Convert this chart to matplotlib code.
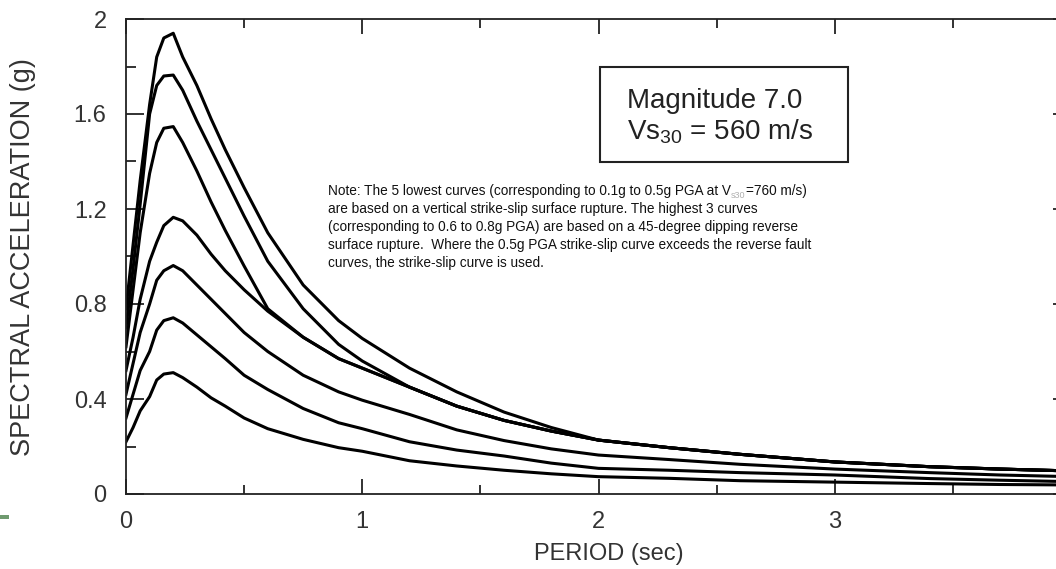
import matplotlib
matplotlib.use("Agg")
import matplotlib.pyplot as plt
from matplotlib.patches import Rectangle
from matplotlib.ticker import MultipleLocator, FuncFormatter

plt.rcParams["font.family"] = ["Liberation Sans", "DejaVu Sans"]
plt.rcParams["mathtext.default"] = "regular"

# Response spectra, spectral acceleration (g) versus period (sec)
period = [0, 0.03, 0.06, 0.1, 0.13, 0.16, 0.2, 0.24, 0.3, 0.36, 0.42, 0.5, 0.6,
          0.75, 0.9, 1.0, 1.2, 1.4, 1.6, 1.8, 2.0, 2.3, 2.6, 3.0, 3.4, 3.7, 4.0]

# reverse-fault curves (0.8g, 0.7g, 0.6g PGA), enveloped by the 0.5g strike-slip curve
sa_rev_08 = [0.78, 1.05, 1.32, 1.64, 1.84, 1.92, 1.94, 1.84, 1.72, 1.58, 1.45, 1.29, 1.10,
             0.88, 0.73, 0.655, 0.53, 0.43, 0.345, 0.28, 0.227, 0.195, 0.167, 0.135, 0.115, 0.105, 0.097]
sa_rev_07 = [0.70, 0.95, 1.22, 1.60, 1.72, 1.76, 1.764, 1.70, 1.57, 1.45, 1.33, 1.17, 0.98,
             0.78, 0.63, 0.56, 0.45, 0.37, 0.31, 0.265, 0.227, 0.195, 0.167, 0.135, 0.115, 0.105, 0.097]
sa_rev_06 = [0.62, 0.86, 1.10, 1.35, 1.48, 1.54, 1.547, 1.48, 1.36, 1.23, 1.11, 0.96, 0.78,
             0.66, 0.57, 0.53, 0.45, 0.37, 0.31, 0.265, 0.227, 0.195, 0.167, 0.135, 0.115, 0.105, 0.097]
# strike-slip curves
sa_ss_05 = [0.52, 0.66, 0.82, 0.98, 1.06, 1.13, 1.165, 1.15, 1.09, 1.01, 0.94, 0.86, 0.77,
            0.66, 0.57, 0.53, 0.45, 0.37, 0.31, 0.265, 0.227, 0.195, 0.167, 0.135, 0.115, 0.105, 0.097]
sa_ss_04 = [0.42, 0.55, 0.68, 0.80, 0.90, 0.94, 0.962, 0.94, 0.88, 0.82, 0.76, 0.68, 0.60,
            0.50, 0.43, 0.395, 0.335, 0.27, 0.225, 0.19, 0.164, 0.145, 0.125, 0.105, 0.09, 0.08, 0.073]
sa_ss_03 = [0.32, 0.42, 0.52, 0.60, 0.69, 0.73, 0.742, 0.72, 0.67, 0.62, 0.57, 0.50, 0.44,
            0.36, 0.30, 0.275, 0.22, 0.185, 0.16, 0.13, 0.108, 0.10, 0.09, 0.08, 0.065, 0.058, 0.052]
sa_ss_02 = [0.22, 0.28, 0.35, 0.41, 0.48, 0.505, 0.511, 0.49, 0.45, 0.405, 0.37, 0.32, 0.275,
            0.23, 0.195, 0.18, 0.14, 0.118, 0.10, 0.085, 0.073, 0.066, 0.056, 0.05, 0.044, 0.04, 0.038]

curves = [sa_rev_08, sa_rev_07, sa_rev_06, sa_ss_05, sa_ss_04, sa_ss_03, sa_ss_02]

x_ticks = [0, 1, 2, 3, 4]
x_tick_labels = ["0", "1", "2", "3", ""]
y_ticks = [0, 0.4, 0.8, 1.2, 1.6, 2.0]
y_tick_labels = ["0", "0.4", "0.8", "1.2", "1.6", "2"]

W, H = 1056, 569
fig = plt.figure(figsize=(W / 100, H / 100), dpi=100)
fig.patch.set_facecolor("white")

# axes in pixel terms: left 126, right 1071, top 19, bottom 494
ax = fig.add_axes([126 / W, (H - 494) / H, 945 / W, 475 / H])
for sa in curves:
    ax.plot(period, sa, color="black", lw=2.2, solid_joinstyle="round")

ax.set_xlim(0, 4)
ax.set_ylim(0, 2)
ax.set_xticks(x_ticks, x_tick_labels)
ax.set_yticks(y_ticks, y_tick_labels)
ax.xaxis.set_minor_locator(MultipleLocator(0.5))
ax.yaxis.set_minor_locator(MultipleLocator(0.2))

for s in ax.spines.values():
    s.set_linewidth(1.3)
    s.set_color("#222222")

ax.tick_params(which="both", direction="in", top=True, right=True, width=1.3,
               color="#222222", labelcolor="#333333", labelsize=17)
ax.tick_params(axis="x", which="major", length=10.8, pad=12)
ax.tick_params(axis="x", which="minor", length=6.5)
ax.tick_params(axis="y", which="major", length=13, pad=14)
ax.tick_params(axis="y", which="minor", length=7.2)


def fx(px):
    return px / W


def fy(py):
    return 1 - py / H


fig.text(fx(23), fy(257), "SPECTRAL ACCELERATION (g)", rotation=90, ha="center",
         va="center", fontsize=19.5, color="#333333")
fig.text(fx(609), fy(560), "PERIOD (sec)", ha="center", va="baseline",
         fontsize=17, color="#333333")

# magnitude / site box
fig.add_artist(Rectangle((fx(600), fy(162)), 248 / W, 95 / H, transform=fig.transFigure,
                         fill=False, edgecolor="#222222", lw=1.5))
fig.text(fx(627), fy(108), "Magnitude 7.0", ha="left", va="baseline", fontsize=20,
         color="#222222")
fig.text(fx(627), fy(140), "Vs$_{30}$ = 560 m/s", ha="left", va="baseline", fontsize=20,
         color="#222222")

# explanatory note
note_font = dict(family=["Liberation Sans", "DejaVu Sans"], fontsize=9.8, color="#111111")
t1 = fig.text(fx(328), fy(195), "Note: The 5 lowest curves (corresponding to 0.1g to 0.5g PGA at V",
              ha="left", va="baseline", **note_font)
t2 = plt.annotate("s30", xy=(1, 0), xycoords=t1, xytext=(0, -1.5), textcoords="offset points",
                  ha="left", va="bottom", family=note_font["family"], fontsize=6.5,
                  color="#b0b0b0", annotation_clip=False)
plt.annotate("=760 m/s)", xy=(1, 0), xycoords=(t2, t1), ha="left", va="bottom",
             annotation_clip=False, **note_font)
note_lines = [
    "are based on a vertical strike-slip surface rupture. The highest 3 curves",
    "(corresponding to 0.6 to 0.8g PGA) are based on a 45-degree dipping reverse",
    "surface rupture.  Where the 0.5g PGA strike-slip curve exceeds the reverse fault",
    "curves, the strike-slip curve is used.",
]
for i, line in enumerate(note_lines):
    fig.text(fx(328), fy(195 + 18 * (i + 1)), line, ha="left", va="baseline", **note_font)

# small slide marker at the left edge
fig.add_artist(Rectangle((0, fy(519)), 9 / W, 4 / H, transform=fig.transFigure,
                         color="#6f9a6f", lw=0))

fig.savefig("out.png", dpi=100, facecolor="white")
